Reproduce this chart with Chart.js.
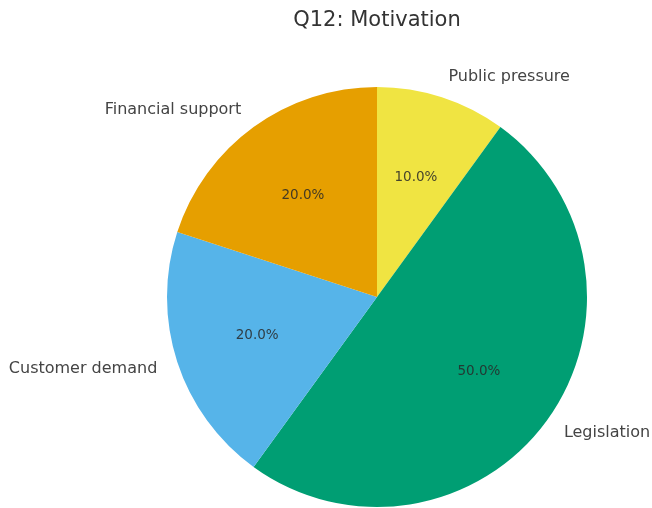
<!DOCTYPE html>
<html>
<head>
<meta charset="utf-8">
<script src="https://cdn.jsdelivr.net/npm/chart.js@4"></script>
<style>
  html, body { margin: 0; padding: 0; background: #fff; }
  #wrap { width: 652px; height: 508px; }
</style>
</head>
<body>
<div id="wrap"><canvas id="pie"></canvas></div>
<script>
const labels = ['Public pressure', 'Legislation', 'Customer demand', 'Financial support'];
const values = [10, 50, 20, 20];
const colors = ['#F0E442', '#009E73', '#56B4E9', '#E69F00'];
const title = 'Q12: Motivation';

// slice names outside the pie, percentages inside, plus the title
const pieLabels = {
    id: 'pieLabels',
    afterDatasetsDraw(chart) {
        const ctx = chart.ctx;
        const arcs = chart.getDatasetMeta(0).data;
        const total = values.reduce((a, b) => a + b, 0);
        ctx.save();
        arcs.forEach((arc, i) => {
            const mid = (arc.startAngle + arc.endAngle) / 2;
            const r = arc.outerRadius;
            const cos = Math.cos(mid), sin = Math.sin(mid);

            // category name at 1.1 r
            ctx.font = '16px "DejaVu Sans"';
            ctx.fillStyle = '#444';
            ctx.textBaseline = 'middle';
            ctx.textAlign = cos >= 0 ? 'left' : 'right';
            ctx.fillText(labels[i], arc.x + cos * r * 1.1, arc.y + sin * r * 1.1);

            // percentage at 0.6 r
            ctx.font = '13.5px "DejaVu Sans"';
            ctx.fillStyle = 'rgba(40,40,40,0.85)';
            ctx.textAlign = 'center';
            const pct = (values[i] / total * 100).toFixed(1) + '%';
            ctx.fillText(pct, arc.x + cos * r * 0.6, arc.y + sin * r * 0.6);
        });

        ctx.font = '21px "DejaVu Sans"';
        ctx.fillStyle = '#333';
        ctx.textAlign = 'center';
        ctx.textBaseline = 'middle';
        ctx.fillText(title, 377, 21);
        ctx.restore();
    }
};

new Chart(document.getElementById('pie'), {
    type: 'pie',
    data: {
        labels: labels,
        datasets: [{
            data: values,
            backgroundColor: colors,
            borderWidth: 0
        }]
    },
    options: {
        responsive: true,
        maintainAspectRatio: false,
        animation: false,
        layout: {
            padding: { top: 87, bottom: 1, left: 167, right: 65 }
        },
        plugins: {
            legend: { display: false },
            tooltip: { enabled: false }
        }
    },
    plugins: [pieLabels]
});
</script>
</body>
</html>
